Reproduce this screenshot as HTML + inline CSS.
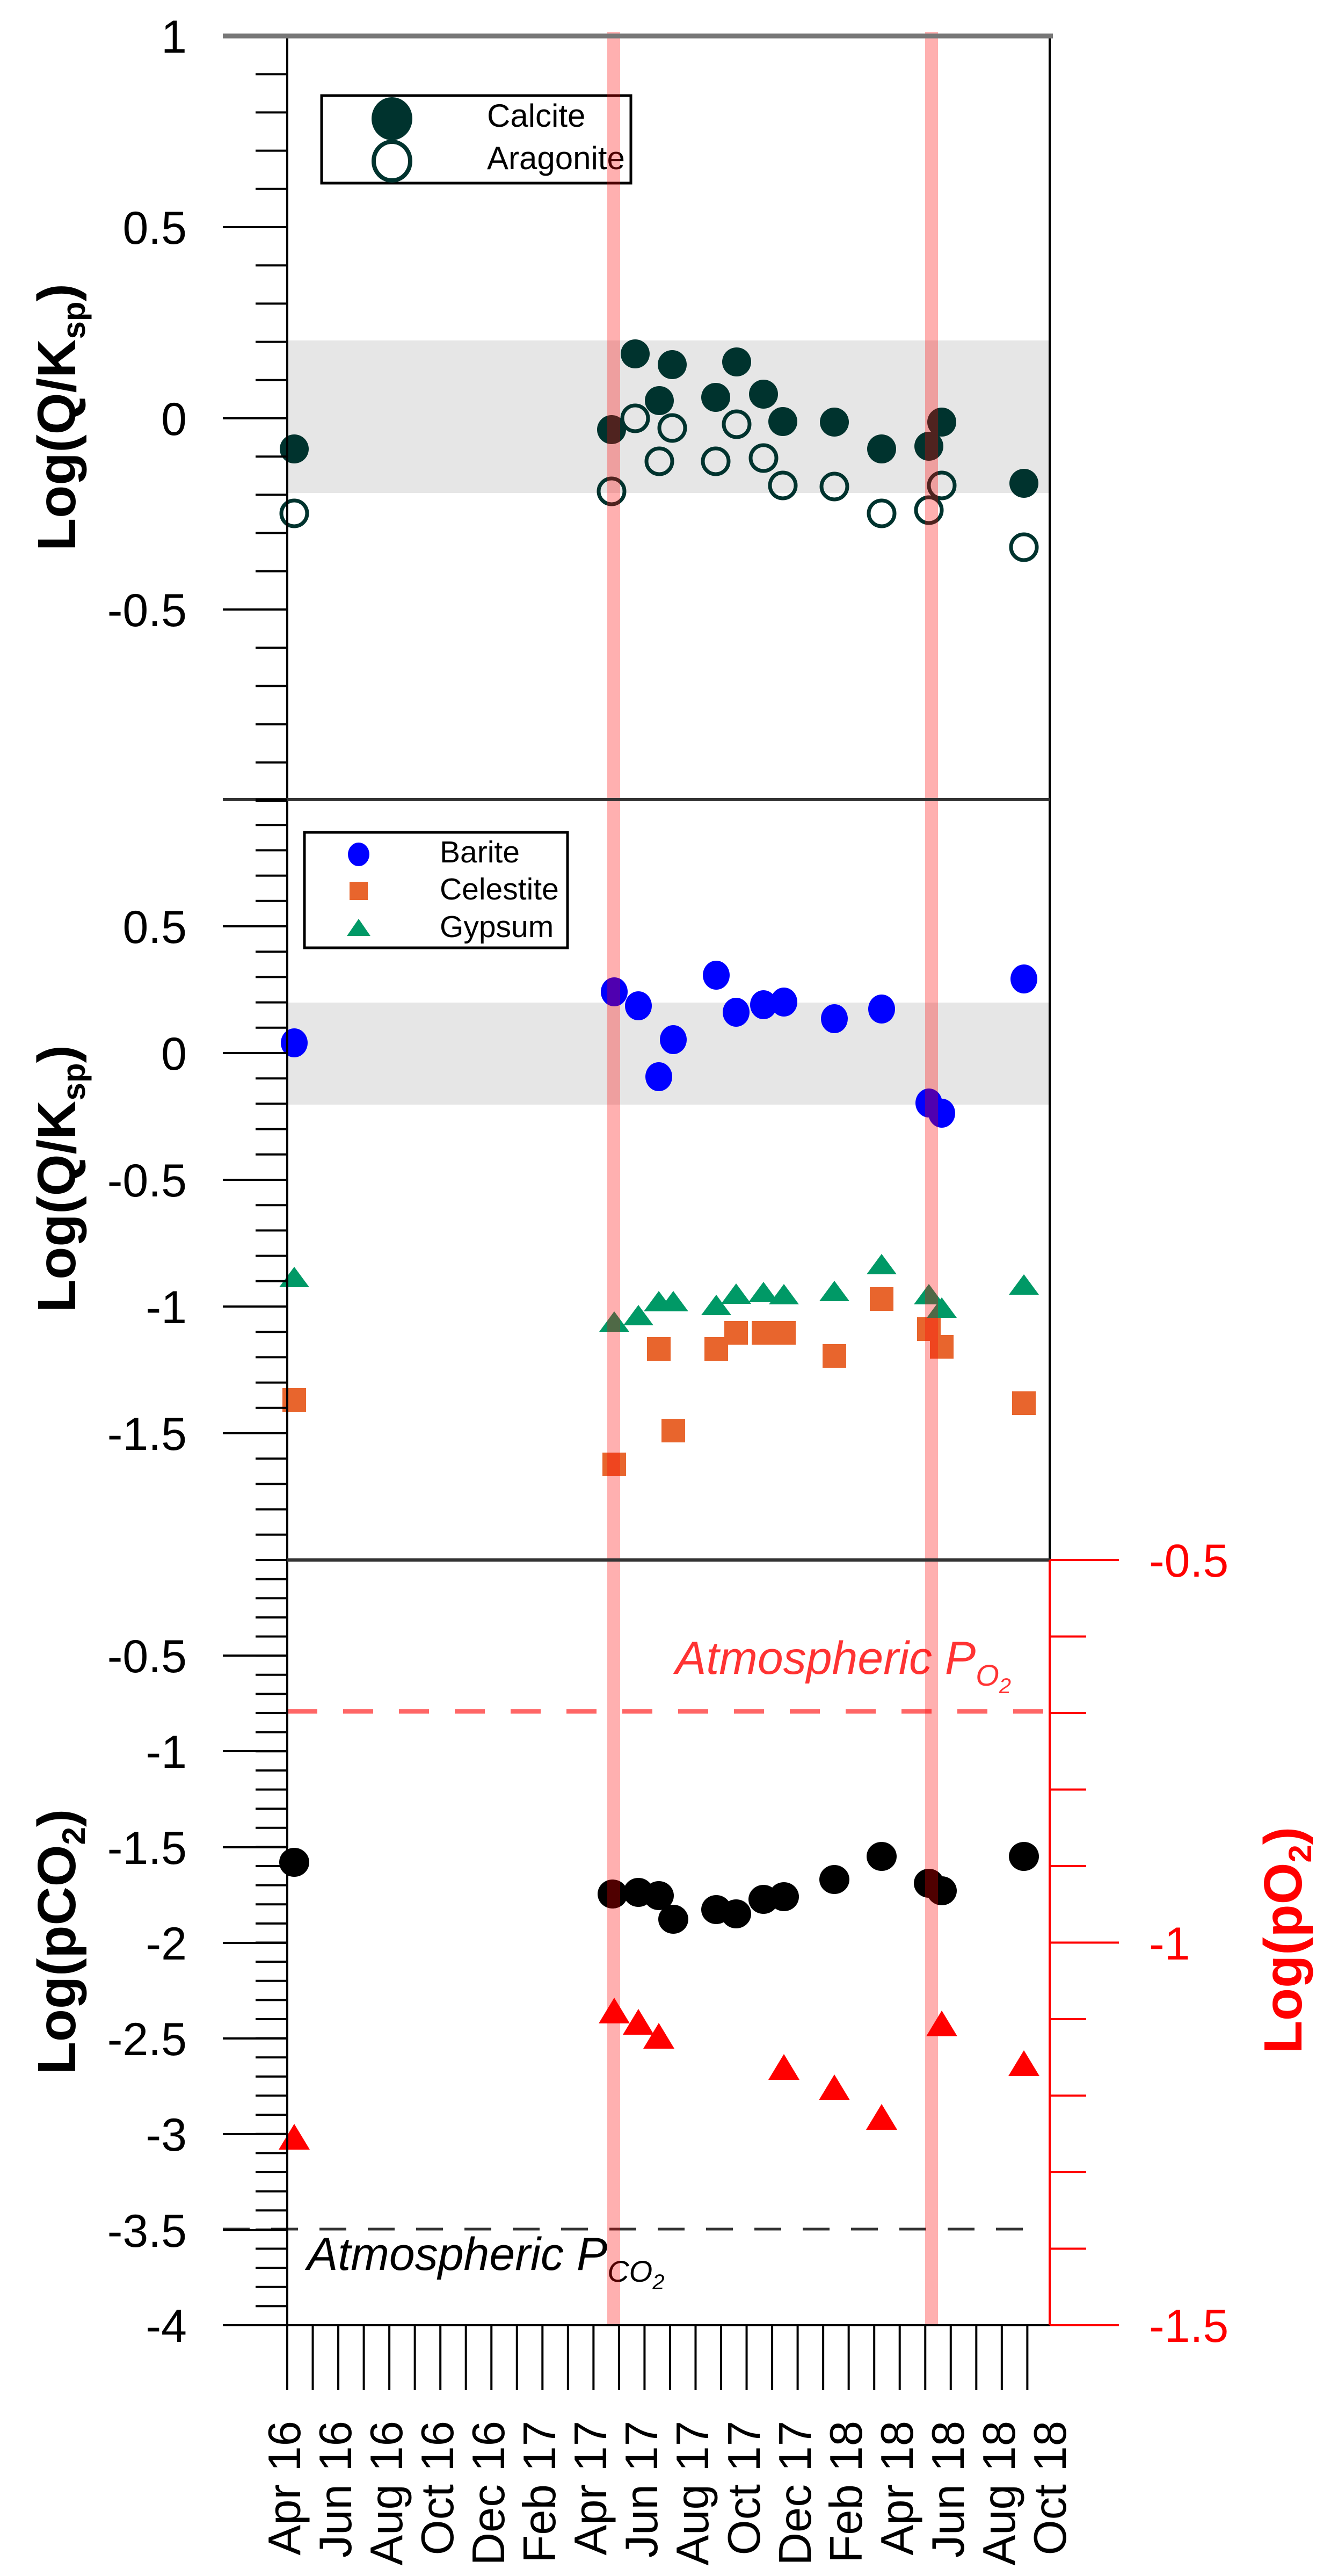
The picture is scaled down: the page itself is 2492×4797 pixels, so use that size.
<!DOCTYPE html>
<html><head><meta charset="utf-8"><style>
html,body{margin:0;padding:0;background:#fff;}
svg{display:block;}
text{font-family:"Liberation Sans",Arial,sans-serif;}
</style></head><body>
<svg width="2492" height="4797" viewBox="0 0 2492 4797" xmlns="http://www.w3.org/2000/svg">
<rect width="2492" height="4797" fill="#fff"/>
<!-- shaded bands -->
<rect x="535" y="634" width="1420" height="284" fill="#e6e6e6"/>
<rect x="535" y="1867" width="1420" height="190" fill="#e6e6e6"/>

<g transform="translate(-6,0)">
<!-- panel 1 data -->
<g fill="#00332e">
<circle cx="554" cy="836" r="27"/><circle cx="1145" cy="800" r="27"/>
<circle cx="1189" cy="659" r="27"/><circle cx="1258" cy="679" r="27"/>
<circle cx="1234" cy="746" r="27"/><circle cx="1339" cy="740" r="27"/>
<circle cx="1378" cy="674" r="27"/><circle cx="1428" cy="734" r="27"/>
<circle cx="1464" cy="785" r="27"/><circle cx="1560" cy="786" r="27"/>
<circle cx="1648" cy="836" r="27"/><circle cx="1736" cy="831" r="27"/>
<circle cx="1760" cy="786" r="27"/><circle cx="1913" cy="900" r="27"/>
</g>
<g fill="none" stroke="#00332e" stroke-width="7">
<circle cx="554" cy="956" r="24"/><circle cx="1145" cy="915" r="24"/>
<circle cx="1189" cy="779" r="24"/><circle cx="1234" cy="859" r="24"/>
<circle cx="1258" cy="797" r="24"/><circle cx="1339" cy="859" r="24"/>
<circle cx="1378" cy="790" r="24"/><circle cx="1428" cy="853" r="24"/>
<circle cx="1464" cy="904" r="24"/><circle cx="1560" cy="906" r="24"/>
<circle cx="1648" cy="956" r="24"/><circle cx="1736" cy="950" r="24"/>
<circle cx="1760" cy="904" r="24"/><circle cx="1913" cy="1019" r="24"/>
</g>

<!-- panel 2 data -->
<g fill="#e8652d">
<rect x="532" y="2585" width="44" height="44"/><rect x="1128" y="2705" width="44" height="44"/>
<rect x="1211" y="2490" width="44" height="44"/><rect x="1238" y="2642" width="44" height="44"/>
<rect x="1318" y="2490" width="44" height="44"/><rect x="1355" y="2460" width="44" height="44"/>
<rect x="1406" y="2460" width="44" height="44"/><rect x="1444" y="2460" width="44" height="44"/>
<rect x="1538" y="2503" width="44" height="44"/><rect x="1626" y="2397" width="44" height="44"/>
<rect x="1714" y="2453" width="44" height="44"/><rect x="1738" y="2486" width="44" height="44"/>
<rect x="1891" y="2591" width="44" height="44"/>
</g>
<g fill="#009966">
<path d="M554 2359l28 38h-56z"/><path d="M1150 2442l28 38h-56z"/><path d="M1195 2430l28 38h-56z"/>
<path d="M1233 2404l28 38h-56z"/><path d="M1260 2404l28 38h-56z"/><path d="M1340 2411l28 38h-56z"/>
<path d="M1377 2390l28 38h-56z"/><path d="M1428 2387l28 38h-56z"/><path d="M1466 2391l28 38h-56z"/>
<path d="M1560 2385l28 38h-56z"/><path d="M1648 2335l28 38h-56z"/><path d="M1736 2391l28 38h-56z"/>
<path d="M1760 2416l28 38h-56z"/><path d="M1913 2373l28 38h-56z"/>
</g>
<g fill="#0000ff">
<ellipse cx="554" cy="1942" rx="25" ry="27"/><ellipse cx="1150" cy="1847" rx="25" ry="27"/>
<ellipse cx="1195" cy="1873" rx="25" ry="27"/><ellipse cx="1233" cy="2005" rx="25" ry="27"/>
<ellipse cx="1260" cy="1936" rx="25" ry="27"/><ellipse cx="1340" cy="1816" rx="25" ry="27"/>
<ellipse cx="1377" cy="1885" rx="25" ry="27"/><ellipse cx="1428" cy="1871" rx="25" ry="27"/>
<ellipse cx="1466" cy="1866" rx="25" ry="27"/><ellipse cx="1560" cy="1897" rx="25" ry="27"/>
<ellipse cx="1648" cy="1879" rx="25" ry="27"/><ellipse cx="1736" cy="2054" rx="25" ry="27"/>
<ellipse cx="1760" cy="2073" rx="25" ry="27"/><ellipse cx="1913" cy="1823" rx="25" ry="27"/>
</g>

<!-- panel 3 data -->
<g fill="#000">
<ellipse cx="554" cy="3468" rx="28" ry="27"/><ellipse cx="1147" cy="3527" rx="28" ry="27"/>
<ellipse cx="1195" cy="3524" rx="28" ry="27"/><ellipse cx="1233" cy="3530" rx="28" ry="27"/>
<ellipse cx="1260" cy="3574" rx="28" ry="27"/><ellipse cx="1340" cy="3556" rx="28" ry="27"/>
<ellipse cx="1377" cy="3564" rx="28" ry="27"/><ellipse cx="1428" cy="3537" rx="28" ry="27"/>
<ellipse cx="1466" cy="3532" rx="28" ry="27"/><ellipse cx="1560" cy="3500" rx="28" ry="27"/>
<ellipse cx="1648" cy="3457" rx="28" ry="27"/><ellipse cx="1736" cy="3507" rx="28" ry="27"/>
<ellipse cx="1760" cy="3521" rx="28" ry="27"/><ellipse cx="1913" cy="3457" rx="28" ry="27"/>
</g>
<g fill="#ff0000">
<path d="M554 3955l29 48h-58z"/><path d="M1150 3720l29 48h-58z"/><path d="M1195 3741l29 48h-58z"/>
<path d="M1233 3767l29 48h-58z"/><path d="M1466 3825l29 48h-58z"/><path d="M1560 3863l29 48h-58z"/>
<path d="M1648 3918l29 48h-58z"/><path d="M1760 3744l29 48h-58z"/><path d="M1913 3818l29 48h-58z"/>
</g>
</g>

<!-- legend 1 -->
<rect x="599" y="178" width="576" height="163" fill="#fff" stroke="#000" stroke-width="5"/>
<ellipse cx="730" cy="221" rx="38" ry="40" fill="#00332e"/>
<ellipse cx="730" cy="300" rx="34" ry="36" fill="none" stroke="#00332e" stroke-width="8"/>
<text x="907" y="236" font-size="60">Calcite</text>
<text x="907" y="315" font-size="60">Aragonite</text>

<!-- legend 2 -->
<rect x="567" y="1550" width="490" height="215" fill="#fff" stroke="#000" stroke-width="5"/>
<ellipse cx="668" cy="1591" rx="20" ry="22" fill="#0000ff"/>
<rect x="651" y="1642" width="34" height="34" fill="#e8652d"/>
<path d="M668 1711l22 32h-44z" fill="#009966"/>
<text x="819" y="1606" font-size="57">Barite</text>
<text x="819" y="1675" font-size="57">Celestite</text>
<text x="819" y="1745" font-size="57">Gypsum</text>

<line x1="535" y1="3187" x2="1945" y2="3187" stroke="#ff6666" stroke-width="8" stroke-dasharray="56 48"/>
<line x1="415" y1="4151" x2="1930" y2="4151" stroke="#333" stroke-width="5" stroke-dasharray="50 40"/>
<text x="1258" y="3117" font-size="86" font-style="italic" fill="#ff3333">Atmospheric P<tspan font-size="56" dy="22">O</tspan><tspan font-size="40" dy="14">2</tspan></text>
<text x="572" y="4227" font-size="86" font-style="italic" fill="#000">Atmospheric P<tspan font-size="56" dy="22">CO</tspan><tspan font-size="40" dy="14">2</tspan></text>

<!-- red vertical bands -->
<rect x="1131" y="60" width="24" height="4270" fill="rgba(255,0,0,0.31)"/>
<rect x="1723" y="60" width="24" height="4270" fill="rgba(255,0,0,0.31)"/>

<!-- axes -->
<g stroke="#000" stroke-width="4" fill="none">
<line x1="535" y1="67" x2="535" y2="4451"/>
<line x1="1955" y1="67" x2="1955" y2="2905"/>
<line x1="415" y1="4330" x2="1955" y2="4330"/>
<line x1="415" y1="1489" x2="1955" y2="1489" stroke="#333" stroke-width="6"/>
<line x1="535" y1="2905" x2="1955" y2="2905" stroke="#333" stroke-width="6"/>
<path d="M476 67h59m-59 71.2h59m-59 71.2h59m-59 71.2h59m-59 71.2h59m-59 71.2h59m-59 71.2h59m-59 71.2h59m-59 71.2h59m-59 71.2h59m-59 71.2h59m-59 71.2h59m-59 71.2h59m-59 71.2h59m-59 71.2h59m-59 71.2h59m-59 71.2h59m-59 71.2h59m-59 71.2h59m-59 71.2h59m-59 71.2h59"/>
<path d="M415 423h120M415 779h120M415 1135h120"/>
<path d="M476 1489h59m-59 47.2h59m-59 47.2h59m-59 47.2h59m-59 47.2h59m-59 47.2h59m-59 47.2h59m-59 47.2h59m-59 47.2h59m-59 47.2h59m-59 47.2h59m-59 47.2h59m-59 47.2h59m-59 47.2h59m-59 47.2h59m-59 47.2h59m-59 47.2h59m-59 47.2h59m-59 47.2h59m-59 47.2h59m-59 47.2h59m-59 47.2h59m-59 47.2h59m-59 47.2h59m-59 47.2h59m-59 47.2h59m-59 47.2h59m-59 47.2h59m-59 47.2h59m-59 47.2h59m-59 47.2h59"/>
<path d="M415 1725h120M415 1961h120M415 2197h120M415 2433h120M415 2669h120"/>
<path d="M476 2905h59m-59 35.625h59m-59 35.625h59m-59 35.625h59m-59 35.625h59m-59 35.625h59m-59 35.625h59m-59 35.625h59m-59 35.625h59m-59 35.625h59m-59 35.625h59m-59 35.625h59m-59 35.625h59m-59 35.625h59m-59 35.625h59m-59 35.625h59m-59 35.625h59m-59 35.625h59m-59 35.625h59m-59 35.625h59m-59 35.625h59m-59 35.625h59m-59 35.625h59m-59 35.625h59m-59 35.625h59m-59 35.625h59m-59 35.625h59m-59 35.625h59m-59 35.625h59m-59 35.625h59m-59 35.625h59m-59 35.625h59m-59 35.625h59m-59 35.625h59m-59 35.625h59m-59 35.625h59m-59 35.625h59m-59 35.625h59m-59 35.625h59m-59 35.625h59"/>
<path d="M415 3083h120M415 3261h120M415 3440h120M415 3618h120M415 3796h120M415 3974h120M415 4153h120"/>
<path d="M535 4330v121m47.53 -121v121m47.53 -121v121m47.53 -121v121m47.53 -121v121m47.53 -121v121m47.53 -121v121m47.53 -121v121m47.53 -121v121m47.53 -121v121m47.53 -121v121m47.53 -121v121m47.53 -121v121m47.53 -121v121m47.53 -121v121m47.53 -121v121m47.53 -121v121m47.53 -121v121m47.53 -121v121m47.53 -121v121m47.53 -121v121m47.53 -121v121m47.53 -121v121m47.53 -121v121m47.53 -121v121m47.53 -121v121m47.53 -121v121m47.53 -121v121m47.53 -121v121m47.53 -121v121"/>
</g>
<line x1="415" y1="67" x2="1961" y2="67" stroke="#777" stroke-width="9"/>
<g stroke="#ff0000" stroke-width="4" fill="none">
<line x1="1955" y1="2905" x2="1955" y2="4330"/>
<path d="M1955 2905h129M1955 3617.5h129M1955 4330h129"/>
<path d="M1955 3047.5h68M1955 3190h68M1955 3332.5h68M1955 3475h68M1955 3760h68M1955 3902.5h68M1955 4045h68M1955 4187.5h68"/>
</g>

<g font-size="86" text-anchor="end" fill="#000">
<text x="348" y="98">1</text><text x="348" y="454">0.5</text><text x="348" y="810">0</text><text x="348" y="1166">-0.5</text>
<text x="348" y="1756">0.5</text><text x="348" y="1992">0</text><text x="348" y="2228">-0.5</text><text x="348" y="2464">-1</text><text x="348" y="2700">-1.5</text>
<text x="348" y="3114">-0.5</text><text x="348" y="3292">-1</text><text x="348" y="3471">-1.5</text><text x="348" y="3649">-2</text><text x="348" y="3827">-2.5</text><text x="348" y="4005">-3</text><text x="348" y="4184">-3.5</text><text x="348" y="4361">-4</text>
</g>
<g font-size="86" fill="#ff0000">
<text x="2140" y="2936">-0.5</text><text x="2140" y="3649">-1</text><text x="2140" y="4361">-1.5</text>
</g>
<g font-size="85" text-anchor="end" fill="#000">
<text transform="translate(559,4508) rotate(-90)">Apr 16</text>
<text transform="translate(654,4508) rotate(-90)">Jun 16</text>
<text transform="translate(749,4508) rotate(-90)">Aug 16</text>
<text transform="translate(844,4508) rotate(-90)">Oct 16</text>
<text transform="translate(939,4508) rotate(-90)">Dec 16</text>
<text transform="translate(1034,4508) rotate(-90)">Feb 17</text>
<text transform="translate(1129,4508) rotate(-90)">Apr 17</text>
<text transform="translate(1224,4508) rotate(-90)">Jun 17</text>
<text transform="translate(1319,4508) rotate(-90)">Aug 17</text>
<text transform="translate(1415,4508) rotate(-90)">Oct 17</text>
<text transform="translate(1510,4508) rotate(-90)">Dec 17</text>
<text transform="translate(1605,4508) rotate(-90)">Feb 18</text>
<text transform="translate(1700,4508) rotate(-90)">Apr 18</text>
<text transform="translate(1795,4508) rotate(-90)">Jun 18</text>
<text transform="translate(1890,4508) rotate(-90)">Aug 18</text>
<text transform="translate(1985,4508) rotate(-90)">Oct 18</text>
</g>
<g font-size="100" font-weight="bold" text-anchor="middle">
<text transform="translate(140,777) rotate(-90)">Log(Q/K<tspan font-size="60" dy="18">sp</tspan><tspan dy="-18">)</tspan></text>
<text transform="translate(140,2195) rotate(-90)">Log(Q/K<tspan font-size="60" dy="18">sp</tspan><tspan dy="-18">)</tspan></text>
<text transform="translate(140,3616) rotate(-90)">Log(pCO<tspan font-size="60" dy="18">2</tspan><tspan dy="-18">)</tspan></text>
<text transform="translate(2424,3613) rotate(-90)" fill="#ff0000">Log(pO<tspan font-size="60" dy="18">2</tspan><tspan dy="-18">)</tspan></text>
</g>
</svg>
</body></html>
